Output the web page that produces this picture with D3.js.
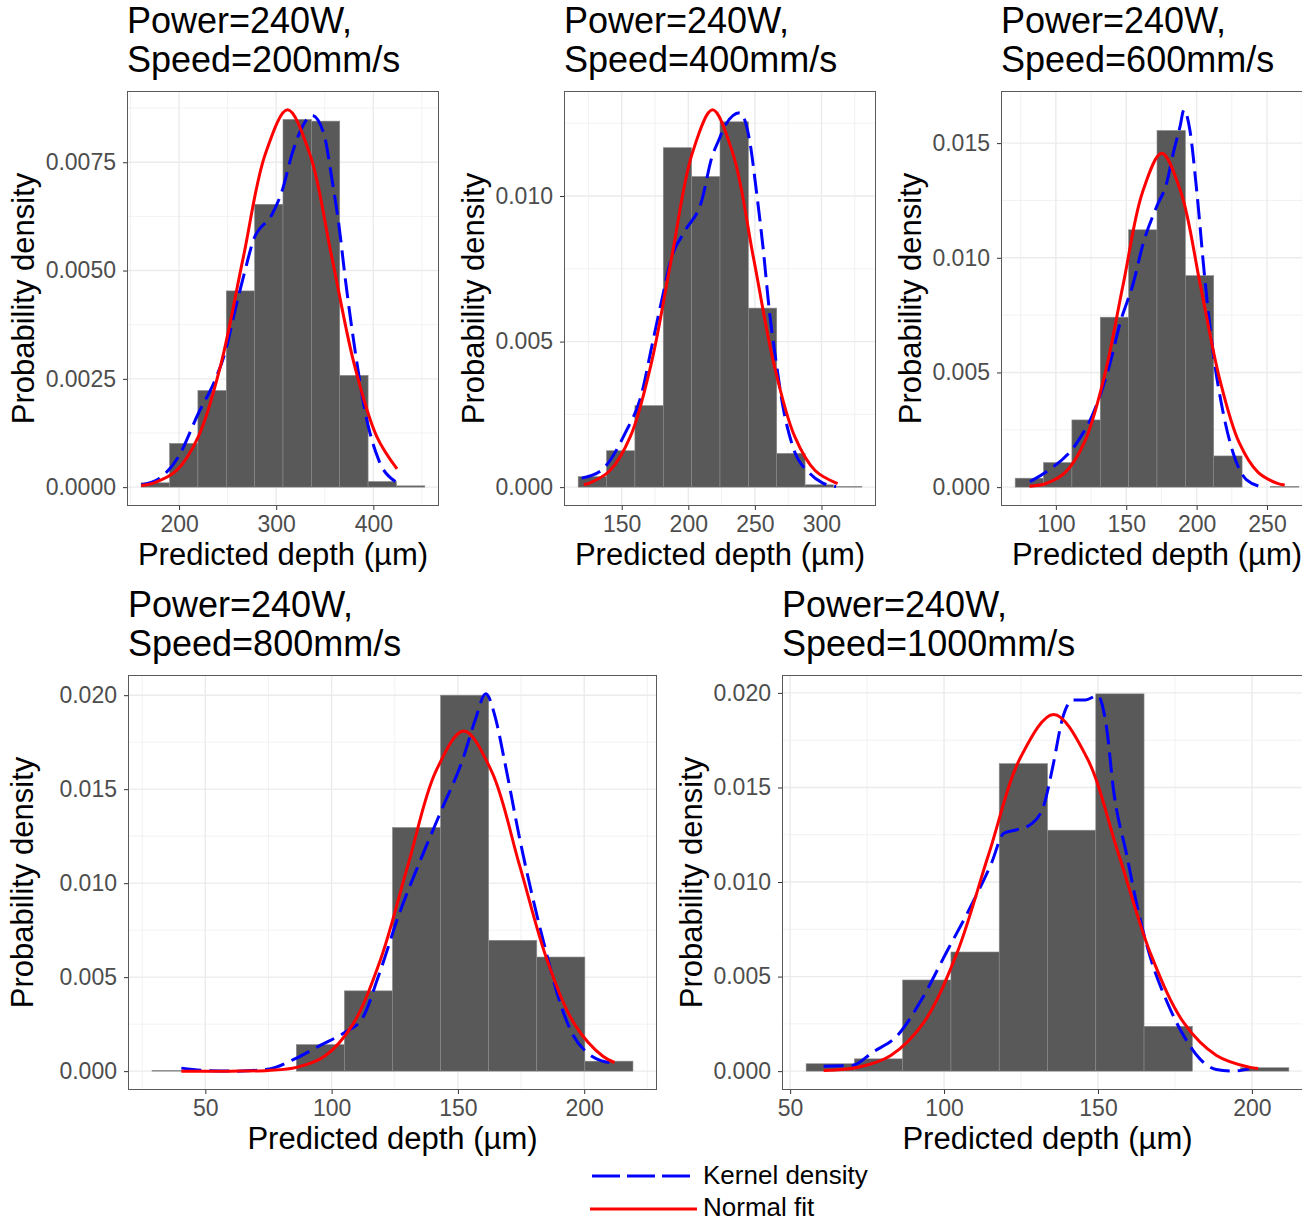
<!DOCTYPE html>
<html>
<head>
<meta charset="utf-8">
<script src="https://cdn.jsdelivr.net/npm/d3@7"></script>
<style>
  body { margin: 0; background: #fff; }
  svg { display: block; font-family: "Liberation Sans", Arial, sans-serif; }
</style>
</head>
<body>
<svg id="chart" width="1302" height="1221"></svg>
<script>
// ===== Данные =====
var power = "240W";
var speeds = [200, 400, 600, 800, 1000];

// 200 mm/s
var edges200 = [161, 190.2, 219.4, 248.6, 277.8, 307, 336.2, 365.4, 394.6, 423.8, 453];
var hist200 = [0.0001, 0.00101, 0.00223, 0.00453, 0.00653, 0.00849, 0.00845, 0.00258, 0.00013, 0.00003];
var kde200 = [[161, 0.00005], [182, 0.00024], [199.3, 0.0007], [219.8, 0.0017], [237, 0.00247], [247.3, 0.0031],
  [257.6, 0.00408], [267.9, 0.005], [276.5, 0.0057], [296, 0.00631], [306.2, 0.00685], [316.4, 0.0077],
  [326.7, 0.00831], [337, 0.00858], [349, 0.00816], [357.6, 0.00708], [364.4, 0.00608], [371.3, 0.00478],
  [381.6, 0.00309], [391.9, 0.0017], [405.5, 0.00063], [422.7, 0.00013]];
var normal200 = [[161, 0.00004], [174.3, 0.0001], [197.2, 0.00038], [220.1, 0.00118], [243, 0.00283], [265.9, 0.00528],
  [288.8, 0.00769], [311.7, 0.00871], [334.6, 0.00769], [357.5, 0.00528], [380.4, 0.00283], [403.3, 0.00118], [424.4, 0.00042]];
var xTicks200 = [200, 300, 400];
var yTicks200 = [0, 0.0025, 0.005, 0.0075];

// 400 mm/s
var edges400 = [117.3, 138.6, 159.9, 181.2, 202.5, 223.8, 245.1, 266.4, 287.7, 309, 330.3];
var hist400 = [0.00036, 0.00125, 0.0028, 0.01166, 0.01067, 0.01255, 0.00615, 0.00116, 0.00008, 0.00002];
var kde400 = [[119.9, 0.00031], [135, 0.00059], [152.5, 0.00185], [165, 0.00322], [172.5, 0.00482], [180, 0.00641],
  [187.5, 0.0079], [197.6, 0.00881], [210.1, 0.00984], [217.6, 0.01132], [222.6, 0.01189], [228, 0.01245],
  [238.6, 0.01286], [246.1, 0.01189], [251.1, 0.01018], [256.1, 0.00824], [261.1, 0.00596], [266.1, 0.00425],
  [271.1, 0.00276], [278.5, 0.00139], [291, 0.00048], [301, 0.00014], [311, 0.00002]];
var normal400 = [[121.5, 0.00009], [125.8, 0.00014], [141.2, 0.00057], [156.6, 0.00175], [172, 0.00421], [187.4, 0.00786],
  [202.8, 0.01144], [218.2, 0.01296], [233.6, 0.01144], [249, 0.00786], [264.4, 0.00421], [279.8, 0.00175],
  [295.2, 0.00057], [312.1, 0.00012]];
var xTicks400 = [150, 200, 250, 300];
var yTicks400 = [0, 0.005, 0.01];

// 600 mm/s
var edges600 = [71.1, 91.25, 111.4, 131.55, 151.7, 171.85, 192, 212.15, 232.3, 252.45, 272.6];
var hist600 = [0.00039, 0.00107, 0.00293, 0.00741, 0.01122, 0.01555, 0.00922, 0.00136, 0, 0.00003];
var kde600 = [[81.6, 0.00024], [93.5, 0.00068], [114.8, 0.00192], [126.6, 0.00323], [138.5, 0.0054], [145.6, 0.00715],
  [155, 0.00889], [162.1, 0.01064], [171.6, 0.01223], [178.7, 0.01326], [183.4, 0.01456], [188.2, 0.01572],
  [191, 0.01645], [195.2, 0.01557], [200, 0.01296], [205.9, 0.00904], [211.8, 0.00584], [218.9, 0.00323],
  [226, 0.00148], [235.5, 0.00032], [247.3, 0]];
var normal600 = [[81.3, 0.00004], [93, 0.00016], [106.7, 0.00064], [120.4, 0.00197], [134.1, 0.00473], [147.8, 0.00883],
  [161.5, 0.01285], [175.2, 0.01456], [188.9, 0.01285], [202.6, 0.00883], [216.3, 0.00473], [230, 0.00197],
  [243.7, 0.00064], [257.4, 0.00016], [262.6, 0.00009]];
var xTicks600 = [100, 150, 200, 250];
var yTicks600 = [0, 0.005, 0.01, 0.015];

// 800 mm/s
var edges800 = [28.9, 47.94, 66.98, 86.02, 105.06, 124.1, 143.14, 162.18, 181.22, 200.26, 219.3];
var hist800 = [0.00003, 0, 0, 0.00141, 0.00427, 0.01296, 0.02, 0.00696, 0.00607, 0.00053];
var kde800 = [[40.5, 0.00016], [52.2, 0.00002], [62.1, 0], [75.4, 0.00012], [85.4, 0.00065], [95.3, 0.00136],
  [105.3, 0.00207], [112, 0.00277], [118.6, 0.00507], [126.9, 0.00842], [135.2, 0.01124], [143.5, 0.01389],
  [151.8, 0.01654], [156.8, 0.01866], [161, 0.02007], [165.1, 0.01866], [168.4, 0.01654], [175.1, 0.01195],
  [180.1, 0.00895], [185, 0.0063], [190, 0.00383], [195, 0.00207], [201.7, 0.00092], [206.6, 0.00056], [211.6, 0.00044]];
var normal800 = [[40.5, 0], [60, 0], [75, 0.00004], [86.15, 0.0002], [97.2, 0.00079], [108.2, 0.00245], [119.2, 0.00587],
  [130.25, 0.01097], [141.3, 0.01596], [152.3, 0.01809], [163.3, 0.01596], [174.35, 0.01097], [185.4, 0.00587],
  [196.4, 0.00245], [207.4, 0.00079], [212, 0.00046]];
var xTicks800 = [50, 100, 150, 200];
var yTicks800 = [0, 0.005, 0.01, 0.015, 0.02];

// 1000 mm/s
var edges1000 = [55.2, 70.88, 86.56, 102.24, 117.92, 133.6, 149.28, 164.96, 180.64, 196.32, 212];
var hist1000 = [0.00039, 0.00065, 0.00482, 0.0063, 0.01626, 0.01274, 0.01995, 0.00237, 0, 0.00018];
var kde1000 = [[60.9, 0.00026], [70.2, 0.0003], [76.8, 0.001], [84.8, 0.00188], [92.8, 0.00381], [100.7, 0.00626],
  [108.7, 0.00872], [115.4, 0.011], [119.4, 0.01258], [123.3, 0.01275], [128.6, 0.0131], [132.6, 0.01416],
  [135.3, 0.01609], [138.6, 0.01872], [141.9, 0.01963], [145.9, 0.01963], [149.9, 0.01986], [152.6, 0.01837],
  [155.2, 0.01468], [159.2, 0.01153], [163.2, 0.00837], [167.2, 0.00591], [172.5, 0.00363], [177.8, 0.00188],
  [183.1, 0.00065], [188.4, 0.00009], [193.8, 0], [199.1, 0.00012]];
var normal1000 = [[60.9, 0.00004], [72.15, 0.00021], [82.7, 0.00083], [93.3, 0.00255], [103.9, 0.00612], [114.45, 0.01144],
  [125, 0.01664], [135.6, 0.01886], [146.2, 0.01664], [156.75, 0.01144], [167.3, 0.00612], [177.9, 0.00255],
  [188.5, 0.00083], [199.05, 0.00021], [202, 0.00014]];
var xTicks1000 = [50, 100, 150, 200];
var yTicks1000 = [0, 0.005, 0.01, 0.015, 0.02];

var legendLabels = ["Kernel density", "Normal fit"];

// ===== Панели =====
var panels = [
  {speed: speeds[0], edges: edges200, hist: hist200, kde: kde200, normal: normal200, xTicks: xTicks200, yTicks: yTicks200, fmt: ".4f"},
  {speed: speeds[1], edges: edges400, hist: hist400, kde: kde400, normal: normal400, xTicks: xTicks400, yTicks: yTicks400, fmt: ".3f"},
  {speed: speeds[2], edges: edges600, hist: hist600, kde: kde600, normal: normal600, xTicks: xTicks600, yTicks: yTicks600, fmt: ".3f"},
  {speed: speeds[3], edges: edges800, hist: hist800, kde: kde800, normal: normal800, xTicks: xTicks800, yTicks: yTicks800, fmt: ".3f"},
  {speed: speeds[4], edges: edges1000, hist: hist1000, kde: kde1000, normal: normal1000, xTicks: xTicks1000, yTicks: yTicks1000, fmt: ".3f"}
];

// Расположение панелей
var boxes = [
  {left: 127, top: 91, w: 312, h: 415, yTitleX: 34},
  {left: 564, top: 91, w: 312, h: 415, yTitleX: 484},
  {left: 1001, top: 91, w: 312, h: 415, yTitleX: 921},
  {left: 128, top: 675, w: 529, h: 415, yTitleX: 33},
  {left: 782, top: 675, w: 531, h: 415, yTitleX: 702}
];

var svg = d3.select("#chart");

function minorTicks(ticks, domain) {
  var step = ticks[1] - ticks[0];
  var out = [];
  for (var v = ticks[0] - step / 2 - step * 10; v <= domain[1]; v += step) {
    if (v >= domain[0]) out.push(v);
  }
  return out;
}

function drawPanel(p, box) {
  var g = svg.append("g");
  var xMin = p.edges[0], xMax = p.edges[p.edges.length - 1];
  var pad = 0.05 * (xMax - xMin);
  var x = d3.scaleLinear().domain([xMin - pad, xMax + pad]).range([box.left, box.left + box.w]);
  var yMax = d3.max([d3.max(p.hist), d3.max(p.kde, d => d[1]), d3.max(p.normal, d => d[1])]);
  var y = d3.scaleLinear().domain([-0.05 * yMax, 1.05 * yMax]).range([box.top + box.h, box.top]);
  var bottom = box.top + box.h;

  // Сетка
  var grid = g.append("g");
  minorTicks(p.xTicks, x.domain()).forEach(function (v) {
    grid.append("line").attr("x1", x(v)).attr("x2", x(v)).attr("y1", box.top).attr("y2", bottom)
      .attr("stroke", "#ececec").attr("stroke-width", 0.7);
  });
  minorTicks(p.yTicks, y.domain()).forEach(function (v) {
    grid.append("line").attr("x1", box.left).attr("x2", box.left + box.w).attr("y1", y(v)).attr("y2", y(v))
      .attr("stroke", "#ececec").attr("stroke-width", 0.7);
  });
  p.xTicks.forEach(function (v) {
    grid.append("line").attr("x1", x(v)).attr("x2", x(v)).attr("y1", box.top).attr("y2", bottom)
      .attr("stroke", "#ebebeb").attr("stroke-width", 1.4);
  });
  p.yTicks.forEach(function (v) {
    grid.append("line").attr("x1", box.left).attr("x2", box.left + box.w).attr("y1", y(v)).attr("y2", y(v))
      .attr("stroke", "#ebebeb").attr("stroke-width", 1.4);
  });

  // Гистограмма
  g.append("g").selectAll("rect")
    .data(p.hist)
    .join("rect")
    .attr("x", (d, i) => x(p.edges[i]))
    .attr("width", (d, i) => x(p.edges[i + 1]) - x(p.edges[i]))
    .attr("y", d => y(d))
    .attr("height", d => y(0) - y(d))
    .attr("fill", "#595959")
    .attr("stroke", d => d > 0 ? "#8a8a8a" : "none")
    .attr("stroke-width", 0.6);

  // Кривые
  var line = d3.line().x(d => x(d[0])).y(d => y(d[1]));
  g.append("path").datum(p.kde)
    .attr("d", line.curve(d3.curveMonotoneX))
    .attr("fill", "none").attr("stroke", "#0000ff").attr("stroke-width", 3)
    .attr("stroke-dasharray", "20,8");
  g.append("path").datum(p.normal)
    .attr("d", line.curve(d3.curveCatmullRom))
    .attr("fill", "none").attr("stroke", "#ff0000").attr("stroke-width", 3);

  // Рамка
  g.append("rect").attr("x", box.left + 0.5).attr("y", box.top + 0.5)
    .attr("width", box.w - 1).attr("height", box.h - 1)
    .attr("fill", "none").attr("stroke", "#5a5a5a").attr("stroke-width", 1);

  // Оси
  var xAxis = g.append("g").attr("transform", "translate(0," + bottom + ")")
    .call(d3.axisBottom(x).tickValues(p.xTicks).tickSize(4).tickPadding(6));
  var yAxis = g.append("g").attr("transform", "translate(" + box.left + ",0)")
    .call(d3.axisLeft(y).tickValues(p.yTicks).tickFormat(d3.format(p.fmt)).tickSize(4).tickPadding(7));
  [xAxis, yAxis].forEach(function (a) {
    a.select(".domain").remove();
    a.selectAll(".tick line").attr("stroke", "#333333").attr("stroke-width", 1);
    a.selectAll(".tick text").attr("fill", "#4d4d4d").style("font-size", "23px")
      .style("font-family", "'Liberation Sans', Arial, sans-serif");
  });

  // Подписи осей
  g.append("text").attr("x", box.left + box.w / 2).attr("y", bottom + 59)
    .attr("text-anchor", "middle").style("font-size", "31px").attr("fill", "#000")
    .text("Predicted depth (\u00b5m)");
  g.append("text")
    .attr("transform", "translate(" + box.yTitleX + "," + (box.top + box.h / 2) + ") rotate(-90)")
    .attr("text-anchor", "middle").style("font-size", "31px").attr("fill", "#000")
    .text("Probability density");

  // Заголовок
  g.append("text").attr("x", box.left).attr("y", box.top - 58)
    .style("font-size", "36px").attr("fill", "#000").text("Power=" + power + ",");
  g.append("text").attr("x", box.left).attr("y", box.top - 19)
    .style("font-size", "36px").attr("fill", "#000").text("Speed=" + p.speed + "mm/s");
}

panels.forEach(function (p, i) { drawPanel(p, boxes[i]); });

// Легенда
var legend = svg.append("g");
legend.append("line").attr("x1", 592).attr("x2", 697).attr("y1", 1176).attr("y2", 1176)
  .attr("stroke", "#0000ff").attr("stroke-width", 3).attr("stroke-dasharray", "28,7");
legend.append("line").attr("x1", 590).attr("x2", 697).attr("y1", 1209).attr("y2", 1209)
  .attr("stroke", "#ff0000").attr("stroke-width", 3);
legend.selectAll("text.lab")
  .data(legendLabels)
  .join("text")
  .attr("class", "lab")
  .attr("x", 703)
  .attr("y", (d, i) => 1184 + i * 32)
  .style("font-size", "26px")
  .attr("fill", "#000")
  .text(d => d);
</script>
</body>
</html>
